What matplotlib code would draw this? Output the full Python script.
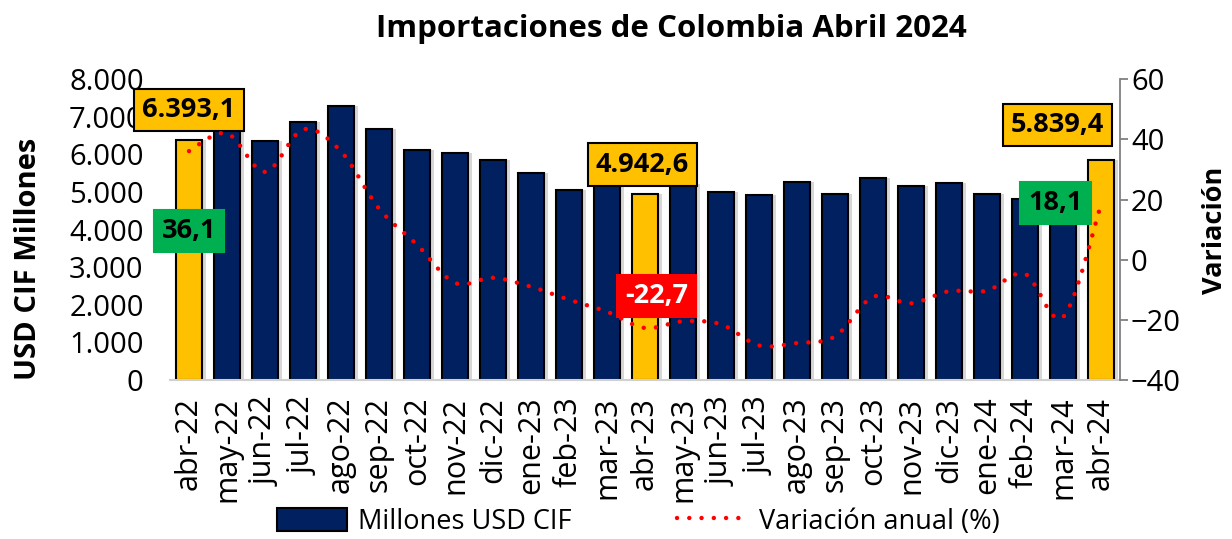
import matplotlib
matplotlib.use("Agg")
import matplotlib.pyplot as plt
import numpy as np
from matplotlib.path import Path
from matplotlib.patches import PathPatch, Patch
from matplotlib.lines import Line2D
from matplotlib.ticker import FuncFormatter

plt.rcParams['font.family'] = ['Open Sans', 'DejaVu Sans']

meses = ['abr-22', 'may-22', 'jun-22', 'jul-22', 'ago-22', 'sep-22', 'oct-22',
         'nov-22', 'dic-22', 'ene-23', 'feb-23', 'mar-23', 'abr-23', 'may-23',
         'jun-23', 'jul-23', 'ago-23', 'sep-23', 'oct-23', 'nov-23', 'dic-23',
         'ene-24', 'feb-24', 'mar-24', 'abr-24']
millones = [6393.1, 7000, 6356, 6870, 7280, 6676, 6117, 6029, 5843, 5514, 5045,
            5250, 4942.6, 5200, 5000, 4929, 5275, 4938, 5364, 5160, 5248,
            4947, 4805, 4752, 5839.4]
variacion = [36.1, 42.0, 29.2, 43.3, 36.0, 17.0, 5.0, -7.7, -6.0, -9.0, -13.3,
             -17.3, -22.7, -20.5, -21.5, -28.5, -27.7, -25.5, -12.4, -14.5,
             -10.5, -10.3, -4.7, -19.1, 18.1]
resaltados = [0, 12, 24]

navy = '#002060'
amarillo = '#FFC000'

fig = plt.figure(figsize=(12.32, 5.39), dpi=100)
ax = fig.add_axes([0.138, 0.295, 0.771, 0.558])
x = np.arange(len(meses))
colores = [amarillo if i in resaltados else navy for i in x]

# sombra suave de las barras
ax.bar(x + 0.1, millones, width=0.68, color='#b0b0b0', alpha=0.5, zorder=1)
ax.bar(x, millones, width=0.68, color=colores, edgecolor='black',
       linewidth=1.5, zorder=2)
ax.set_xlim(-0.5, 24.5)
ax.set_ylim(0, 8000)
ax.set_yticks(range(0, 8001, 1000))
ax.yaxis.set_major_formatter(FuncFormatter(lambda v, p: f'{int(v):,}'.replace(',', '.')))
ax.set_xticks(x)
ax.set_xticklabels(meses, rotation=90, fontsize=22)
ax.tick_params(axis='y', length=0, pad=19, labelsize=21)
ax.tick_params(axis='x', length=0, pad=12)
for s in ['top', 'right', 'left']:
    ax.spines[s].set_visible(False)
ax.spines['bottom'].set_color('#d0d0d0')
ax.spines['bottom'].set_linewidth(1.5)

ax2 = ax.twinx()
ax2.set_ylim(-40, 60)
ax2.set_yticks(range(-40, 61, 20))
for s in ['top', 'left', 'bottom']:
    ax2.spines[s].set_visible(False)
ax2.spines['right'].set_color('#808080')
ax2.spines['right'].set_linewidth(1.3)
ax2.tick_params(axis='y', direction='out', length=6, width=1.3, color='#808080',
                pad=2, labelsize=21)

# linea suavizada punteada (curva tipo Excel)
pts = np.column_stack([x, variacion]).astype(float)
verts = [tuple(pts[0])]
codes = [Path.MOVETO]
n = len(pts)
for i in range(n - 1):
    p0 = pts[max(i - 1, 0)]
    p1 = pts[i]
    p2 = pts[i + 1]
    p3 = pts[min(i + 2, n - 1)]
    c1 = p1 + (p2 - p0) / 6
    c2 = p2 - (p3 - p1) / 6
    verts += [tuple(c1), tuple(c2), tuple(p2)]
    codes += [Path.CURVE4] * 3
curva = PathPatch(Path(verts, codes), facecolor='none', edgecolor='#FF0000',
                  linewidth=3.2, linestyle=(0, (0.01, 2.75)), capstyle='round',
                  zorder=3)
ax2.add_patch(curva)

# etiquetas
def etiqueta(axis, xi, yi, txt, fc, tc, borde):
    axis.text(xi, yi, txt, ha='center', va='center', fontsize=19.5,
              fontweight='bold', color=tc, zorder=5,
              bbox=dict(boxstyle='square,pad=0.3', fc=fc,
                        ec='black' if borde else fc, lw=1.5))

etiqueta(ax, 0, 7180, '6.393,1', amarillo, 'black', True)
etiqueta(ax, 0, 3960, '36,1', '#00B050', 'black', False)
etiqueta(ax, 11.93, 5730, '4.942,6', amarillo, 'black', True)
etiqueta(ax, 12.3, 2240, '-22,7', '#FF0000', 'white', False)
etiqueta(ax, 22.86, 6780, '5.839,4', amarillo, 'black', True)
etiqueta(ax, 22.8, 4710, '18,1', '#00B050', 'black', False)

fig.text(0.545, 0.946, 'Importaciones de Colombia Abril 2024', ha='center',
         va='center', fontsize=22.5, fontweight='bold')
fig.text(0.023, 0.52, 'USD CIF Millones', rotation=90, ha='center',
         va='center', fontsize=21, fontweight='bold')
fig.text(0.986, 0.573, 'Variación', rotation=90, ha='center', va='center',
         fontsize=19.5, fontweight='bold')

handles = [Patch(facecolor=navy, edgecolor='black', linewidth=1.5),
           Line2D([0], [0], color='#FF0000', linewidth=3.2,
                  linestyle=(0, (0.01, 2.75)), dash_capstyle='round')]
fig.legend(handles, ['Millones USD CIF', 'Variación anual (%)'], ncol=2,
           loc='center', bbox_to_anchor=(0.518, 0.032), frameon=False,
           fontsize=19.5, handlelength=2.6, handleheight=0.9, columnspacing=3.9,
           handletextpad=0.4, borderpad=0.1)

fig.savefig('out.png', dpi=100)
